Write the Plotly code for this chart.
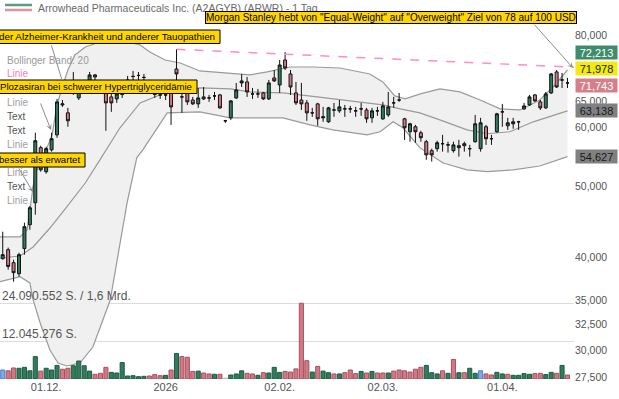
import math
import plotly.graph_objects as go

# ---------------- data ----------------
idx = list(range(105))
opens = [39853, 40984, 39358, 38031, 41123, 44297, 47432, 56318, 52257, 55936,
         58608, 64336, 62771, 66996, 65760, 68690, 67830, 70640, 68253, 66996,
         65965, 65556, 66480, 67830, 70310, 70530, 70094, 68690, 66480, 66376,
         66376, 67205, 71962, 65965, 66789, 65336, 64548, 65965, 65760, 66170,
         66376, 61233, 61806, 65760, 68903, 69118, 66582, 66582, 66789, 65556,
         69985, 68466, 74010, 70859, 66789, 65336, 64749, 62771, 64548, 61806,
         61043, 63336, 63162, 63554, 63554, 63162, 63554, 63336, 61806, 63162,
         61614, 62368, 64749, 65336, 61614, 59180, 60104, 58997, 57375, 55798,
         56144, 57020, 56808, 55798, 56668, 57020, 56144, 57375, 56144, 60104,
         57910, 59180, 62966, 60291, 60666, 61043, 63554, 64336, 66376, 64950,
         63752, 66789, 71301, 69545, 68903]
highs = [43345, 41251, 39728, 40604, 44575, 46962, 58997, 56668, 56493, 58997,
         65556, 65336, 63752, 71301, 69545, 69545, 71301, 70859, 69118, 68466,
         66789, 67415, 67415, 70421, 71521, 71301, 70859, 69545, 67830, 67415,
         67205, 67830, 76561, 66789, 67830, 65965, 67830, 68041, 66376, 66996,
         66582, 61408, 65336, 68903, 70859, 70203, 67830, 67620, 66996, 69545,
         71744, 74010, 75862, 71744, 69118, 68903, 65336, 63752, 64749, 63950,
         63950, 64749, 65336, 64336, 64148, 63950, 64749, 63752, 63752, 63950,
         64950, 66996, 65965, 66789, 61806, 60854, 60456, 59364, 57704, 56144,
         57553, 58608, 57375, 57375, 57704, 57375, 56808, 62368, 61806, 60456,
         58608, 62771, 64548, 61806, 61806, 61233, 64749, 66376, 66582, 65336,
         66996, 71079, 71744, 71079, 69985]
lows = [39728, 38512, 37094, 37676, 40352, 43616, 45700, 52257, 51933, 55625,
        58090, 63950, 60104, 66376, 65336, 66996, 67415, 68466, 66996, 59364,
        62966, 64749, 65760, 66996, 69118, 69545, 68690, 66582, 65760, 65556,
        65336, 60456, 68466, 62771, 64336, 64336, 63752, 65336, 64950, 65336,
        63554, 60854, 61408, 65556, 68041, 65965, 65556, 65760, 65336, 65336,
        69118, 66789, 71744, 66376, 64336, 63336, 61233, 61998, 60291, 61043,
        60854, 61998, 62771, 61998, 62771, 61998, 62190, 60854, 60854, 62190,
        61408, 61998, 63752, 64950, 57704, 57375, 57197, 57375, 54224, 53929,
        55625, 55625, 55453, 55453, 54771, 55625, 54771, 57197, 55625, 56808,
        56808, 58997, 60104, 59528, 59732, 59528, 63336, 64148, 64950, 63336,
        63554, 66582, 67830, 67830, 67830]
closes = [40352, 38904, 38150, 40352, 44023, 46705, 57553, 52560, 56144, 57910,
          64950, 64548, 61233, 69118, 68253, 67830, 70640, 70203, 67830, 64749,
          64749, 66582, 66480, 69545, 70310, 70530, 70094, 67415, 66480, 66376,
          66376, 63950, 70859, 65965, 64950, 64548, 65760, 65556, 65760, 66170,
          63752, 61233, 65152, 67415, 69334, 66996, 66582, 66582, 65556, 68903,
          69334, 72864, 72186, 68041, 64749, 64548, 62771, 62771, 61614, 61998,
          63752, 63336, 63950, 63554, 63554, 63162, 63554, 61614, 63162, 63162,
          64148, 63950, 64749, 65336, 59918, 60666, 59180, 58090, 55072, 55072,
          57197, 57020, 56808, 56808, 56318, 56668, 56144, 60666, 60854, 57910,
          57910, 62577, 62966, 60854, 61043, 61043, 64148, 65965, 65152, 63752,
          66582, 70859, 68041, 69545, 68903]
volumes = [2850000, 2600000, 3500000, 3400000, 3700000, 2600000, 7100000, 2500000, 3400000, 2850000,
           4300000, 3100000, 3400000, 4200000, 5700000, 4200000, 2500000, 1500000, 1800000, 3700000,
           2100000, 1900000, 5200000, 950000, 1050000, 730000, 850000, 950000, 1400000, 1050000,
           1170000, 2850000, 8100000, 7100000, 6900000, 2400000, 2500000, 1900000, 1600000, 1500000,
           1500000, 300000, 1270000, 1600000, 2600000, 1800000, 1600000, 1170000, 2000000, 1900000,
           3700000, 2100000, 2400000, 2200000, 3200000, 24000000, 5800000, 2200000, 4000000, 2500000,
           2000000, 1600000, 1600000, 2000000, 2850000, 1700000, 2400000, 1900000, 2400000, 1900000,
           1900000, 1900000, 2500000, 2850000, 2600000, 2200000, 3100000, 3700000, 4300000, 2000000,
           1600000, 2600000, 1800000, 6200000, 2000000, 2000000, 3400000, 1800000, 2600000, 1600000,
           1270000, 2100000, 1600000, 1500000, 1170000, 1170000, 1700000, 1500000, 1700000, 1800000,
           1400000, 2100000, 1800000, 4300000, 1270000]
vol_dir = ['flat', 'down', 'down', 'up', 'up', 'up', 'up', 'down', 'up', 'up',
           'up', 'down', 'down', 'up', 'up', 'up', 'up', 'down', 'down', 'down',
           'up', 'up', 'up', 'up', 'up', 'up', 'up', 'down', 'down', 'down',
           'up', 'down', 'up', 'down', 'down', 'down', 'up', 'down', 'down', 'up',
           'down', 'none', 'up', 'up', 'up', 'down', 'down', 'up', 'down', 'up',
           'up', 'up', 'down', 'down', 'down', 'down', 'down', 'up', 'down', 'up',
           'up', 'down', 'up', 'down', 'down', 'down', 'up', 'down', 'up', 'down',
           'down', 'up', 'down', 'down', 'down', 'down', 'down', 'down', 'up', 'up',
           'up', 'down', 'up', 'down', 'up', 'down', 'up', 'up', 'flat', 'down',
           'down', 'up', 'up', 'down', 'up', 'up', 'up', 'up', 'down', 'down',
           'up', 'up', 'down', 'up', 'down']

# Bollinger band (20)
bb_upper_x = [-0.5, 3.2, 4.5, 5.9, 7.1, 8.0, 9.1, 10.0, 11.1, 12.0, 13.3, 15.2, 17.9, 21.6,
              25.3, 27.1, 29.9, 32.7, 36.3, 41.9, 45.5, 48.7, 52.9, 57.1, 62.1, 67.6, 70.0,
              72.2, 74.1, 76.9, 80.5, 84.2, 87.9, 91.6, 95.3, 98.9, 101.7, 104.0]
bb_upper = [42640, 42640, 43616, 51720, 54224, 55936, 58608, 64336, 68466, 71744, 75170, 77065,
            78272, 78763, 77546, 75862, 74010, 73321, 71521, 71079, 70640, 71301, 72410, 72410,
            72186, 70859, 69118, 66170, 65556, 66582, 67620, 66996, 65336, 63554, 63336, 65336,
            68466, 71744]
bb_mid_x = [-0.5, 3.2, 5.6, 8.7, 11.8, 15.2, 17.9, 21.6, 25.3, 30.3, 36.3, 41.9, 45.5, 51.6,
            57.9, 64.0, 70.0, 73.2, 76.8, 80.5, 85.5, 89.2, 93.4, 97.7, 104.0]
bb_mid = [39936, 40184, 41328, 43848, 46816, 50448, 54224, 59918, 64749, 66996, 67830, 67620,
          66996, 66789, 65965, 65152, 64336, 63554, 62771, 61408, 59528, 58814, 59180, 61043,
          63162]
bb_lower_x = [-0.5, 3.2, 5.0, 5.6, 6.9, 8.7, 10.2, 11.8, 14.2, 16.6, 19.8, 22.9, 24.7, 25.8,
              30.3, 36.3, 41.9, 51.6, 56.6, 60.8, 67.1, 69.5, 71.9, 73.7, 76.8, 81.1, 85.5,
              89.2, 94.0, 98.9, 104.0]
bb_lower = [37094, 37676, 36946, 35040, 32616, 29984, 28792, 28528, 28792, 30264, 35040, 47432,
            54601, 55936, 62771, 62966, 61806, 61806, 60456, 59528, 58608, 59180, 61043, 59918,
            56318, 53688, 52560, 52257, 52560, 53192, 54771]

trend_x = [32, 105.2]
trend_y = [76514, 72364]

tick_idx = [8, 30, 51, 70, 92]
tick_lbl = ['01.12.', '2026', '02.02.', '02.03.', '01.04.']
price_ticks = [27500, 30000, 32500, 35000, 40000, 50000, 60000, 65000, 80000]
vol_grid = [12045276, 24090552]
vol_grid_lbl = ['12.045.276 S.', '24.090.552 S. / 1,6 Mrd.']

quote_labels = ['72,213', '71,978', '71,743', '63,138', '54,627']

# ---------------- style / geometry ----------------
W, H = 619, 399
ML, MR, MT, MB = 0, 45, 0, 20
PW, PH = W - ML - MR, H - MT - MB
FONT = 'Liberation Sans, Arial, sans-serif'
GREEN = '#2f7d5c'
RED = '#d27884'
PRICE_RANGE = [math.log10(27394), math.log10(89216)]


def px(x):
    return (x - ML) / PW


def py(y):
    return 1 - (y - MT) / PH


vol_fill = {'up': GREEN, 'down': RED, 'flat': '#7aaaf0', 'none': '#d9d9d9'}
vol_line = {'up': '#1d5a40', 'down': '#a4525e', 'flat': '#4f7fc8', 'none': '#bbbbbb'}

fig = go.Figure()
band_line = dict(color='#9a9a9a', width=1.2)
fig.add_trace(go.Scatter(x=bb_lower_x, y=bb_lower, mode='lines', line=band_line, hoverinfo='skip'))
fig.add_trace(go.Scatter(x=bb_upper_x, y=bb_upper, mode='lines', line=band_line, fill='tonexty',
                         fillcolor='#f0f0f0', hoverinfo='skip'))
fig.add_trace(go.Scatter(x=bb_mid_x, y=bb_mid, mode='lines', line=band_line, hoverinfo='skip'))
fig.add_trace(go.Bar(x=idx, y=volumes, yaxis='y2',
                     marker=dict(color=[vol_fill[d] for d in vol_dir],
                                 line=dict(color=[vol_line[d] for d in vol_dir], width=1))))
fig.add_trace(go.Candlestick(
    x=idx, open=opens, high=highs, low=lows, close=closes, whiskerwidth=0, yaxis='y3',
    increasing=dict(fillcolor=GREEN, line=dict(color='#111111', width=1)),
    decreasing=dict(fillcolor=RED, line=dict(color='#111111', width=1))))

shapes = [
    dict(type='line', xref='x', yref='y', x0=trend_x[0], y0=trend_y[0], x1=trend_x[1], y1=trend_y[1],
         line=dict(color='#ff8cc6', width=1.5, dash='dash'), layer='above'),
    dict(type='line', xref='paper', yref='paper', x0=px(5), x1=px(32), y0=py(5), y1=py(5),
         line=dict(color='#5a9f85', width=2.5)),
    dict(type='line', xref='paper', yref='paper', x0=px(5), x1=px(32), y0=py(10), y1=py(10),
         line=dict(color='#e0929c', width=2.5)),
]
# cut-off yellow news boxes
for x1, y0, y1 in [(220, 30, 43.5), (197, 80, 93.5), (85, 153, 167)]:
    shapes.append(dict(type='rect', xref='paper', yref='paper', x0=px(-6), x1=px(x1),
                       y0=py(y1), y1=py(y0), fillcolor='#ffd600',
                       line=dict(color='#000000', width=1), layer='above'))

ann = []
# callout arrows first (tail -> head, pixels), so the boxes and texts sit above them
for (tx, ty), (hx, hy), head in [((533, 23), (573, 68), 3), ((51, 44), (62, 80), 0),
                                 ((40, 102), (51, 130), 3), ((18, 167), (33, 192), 3)]:
    ann.append(dict(xref='paper', yref='paper', x=px(hx), y=py(hy), ax=tx - hx, ay=ty - hy,
                    text='', showarrow=True, arrowhead=head, arrowsize=1, arrowwidth=1,
                    arrowcolor='#8c8c8c'))

ann.append(dict(xref='paper', yref='paper', x=px(36), y=py(7.5), xanchor='left', yanchor='middle',
                text='Arrowhead Pharmaceuticals Inc. (A2AGYB) (ARWR) - 1 Tag', showarrow=False,
                font=dict(size=10.5, color='#6a6a6a')))
ann.append(dict(xref='paper', yref='paper', x=px(205), y=py(17.5), xanchor='left', yanchor='middle',
                text='Morgan Stanley hebt von "Equal-Weight" auf "Overweight" Ziel von 78 auf 100 USD',
                showarrow=False, bgcolor='#ffd600', bordercolor='#000000', borderwidth=1, borderpad=0,
                font=dict(size=10, color='#000000')))
for txt, xr, yc, fs in [('der Alzheimer-Krankheit und anderer Tauopathien', 217, 36.8, 9.8),
                        ('Plozasiran bei schwerer Hypertriglyceridämie', 194, 86.8, 9.6),
                        ('besser als erwartet', 82, 160, 9.6)]:
    ann.append(dict(xref='paper', yref='paper', x=px(xr), y=py(yc), xanchor='right', yanchor='middle',
                    text=txt, showarrow=False, font=dict(size=fs, color='#000000')))

# indicator legend texts on the left
for txt, yc, col in [('Bollinger Band: 20', 61, '#9a9a9a'), ('Linie', 74, '#f27fb8'),
                     ('Linie', 103, '#a0a0a0'), ('Text', 116.5, '#555555'), ('Text', 130.5, '#555555'),
                     ('Linie', 144.5, '#a0a0a0'), ('Linie', 172.5, '#a0a0a0'), ('Text', 186.5, '#555555'),
                     ('Linie', 200.5, '#a0a0a0')]:
    ann.append(dict(xref='paper', yref='paper', x=px(5), y=py(yc), xanchor='left', yanchor='middle',
                    text=txt, showarrow=False, font=dict(size=10, color=col)))

# volume grid labels
for txt, yc in zip(vol_grid_lbl, [334, 296]):
    ann.append(dict(xref='paper', yref='paper', x=px(0), y=py(yc), xanchor='left', yanchor='middle',
                    text=txt, showarrow=False, font=dict(size=12, color='#555555')))

# right-side quote boxes
for txt, yc, bg, fc in zip(quote_labels, [53, 68.3, 86, 110, 157],
                           ['#3f8c6c', '#f2ea12', '#d4808a', '#808080', '#808080'],
                           ['#ffffff', '#222222', '#ffffff', '#1a1a1a', '#1a1a1a']):
    ann.append(dict(xref='paper', yref='paper', x=px(575), y=py(yc), xanchor='left', yanchor='middle',
                    text=txt, showarrow=False, bgcolor=bg, width=40, height=12, borderpad=0.5,
                    align='center', font=dict(size=11, color=fc)))

price_axis = dict(type='log', range=PRICE_RANGE, showgrid=False, zeroline=False, showline=False,
                  automargin=False)

fig.update_layout(
    template='none',
    width=W, height=H, margin=dict(l=ML, r=MR, t=MT, b=MB, pad=0),
    paper_bgcolor='white', plot_bgcolor='white', showlegend=False,
    font=dict(family=FONT, size=10.5, color='#555555'),
    bargap=0.25, boxgap=0.22,
    xaxis=dict(range=[-0.5, 105.2], tickvals=tick_idx, ticktext=tick_lbl, showgrid=False,
               zeroline=False, showline=False, ticks='', rangeslider=dict(visible=False),
               automargin=False, tickfont=dict(size=11, color='#555555')),
    yaxis=dict(price_axis, side='right', tickvals=price_ticks,
               ticktext=[f'{v:,}' for v in price_ticks], ticks='',
               tickfont=dict(size=10.5, color='#555555')),
    yaxis2=dict(overlaying='y', side='left', range=[0, 120.13e6], tickvals=vol_grid,
                showticklabels=False, showgrid=True, gridcolor='#dcdcdc', gridwidth=1,
                zeroline=False, showline=False, automargin=False),
    yaxis3=dict(price_axis, overlaying='y', side='right', showticklabels=False),
    shapes=shapes, annotations=ann,
)

fig.write_html('out.html', config={'displayModeBar': False},
               post_script="document.body.style.margin='0px';")
